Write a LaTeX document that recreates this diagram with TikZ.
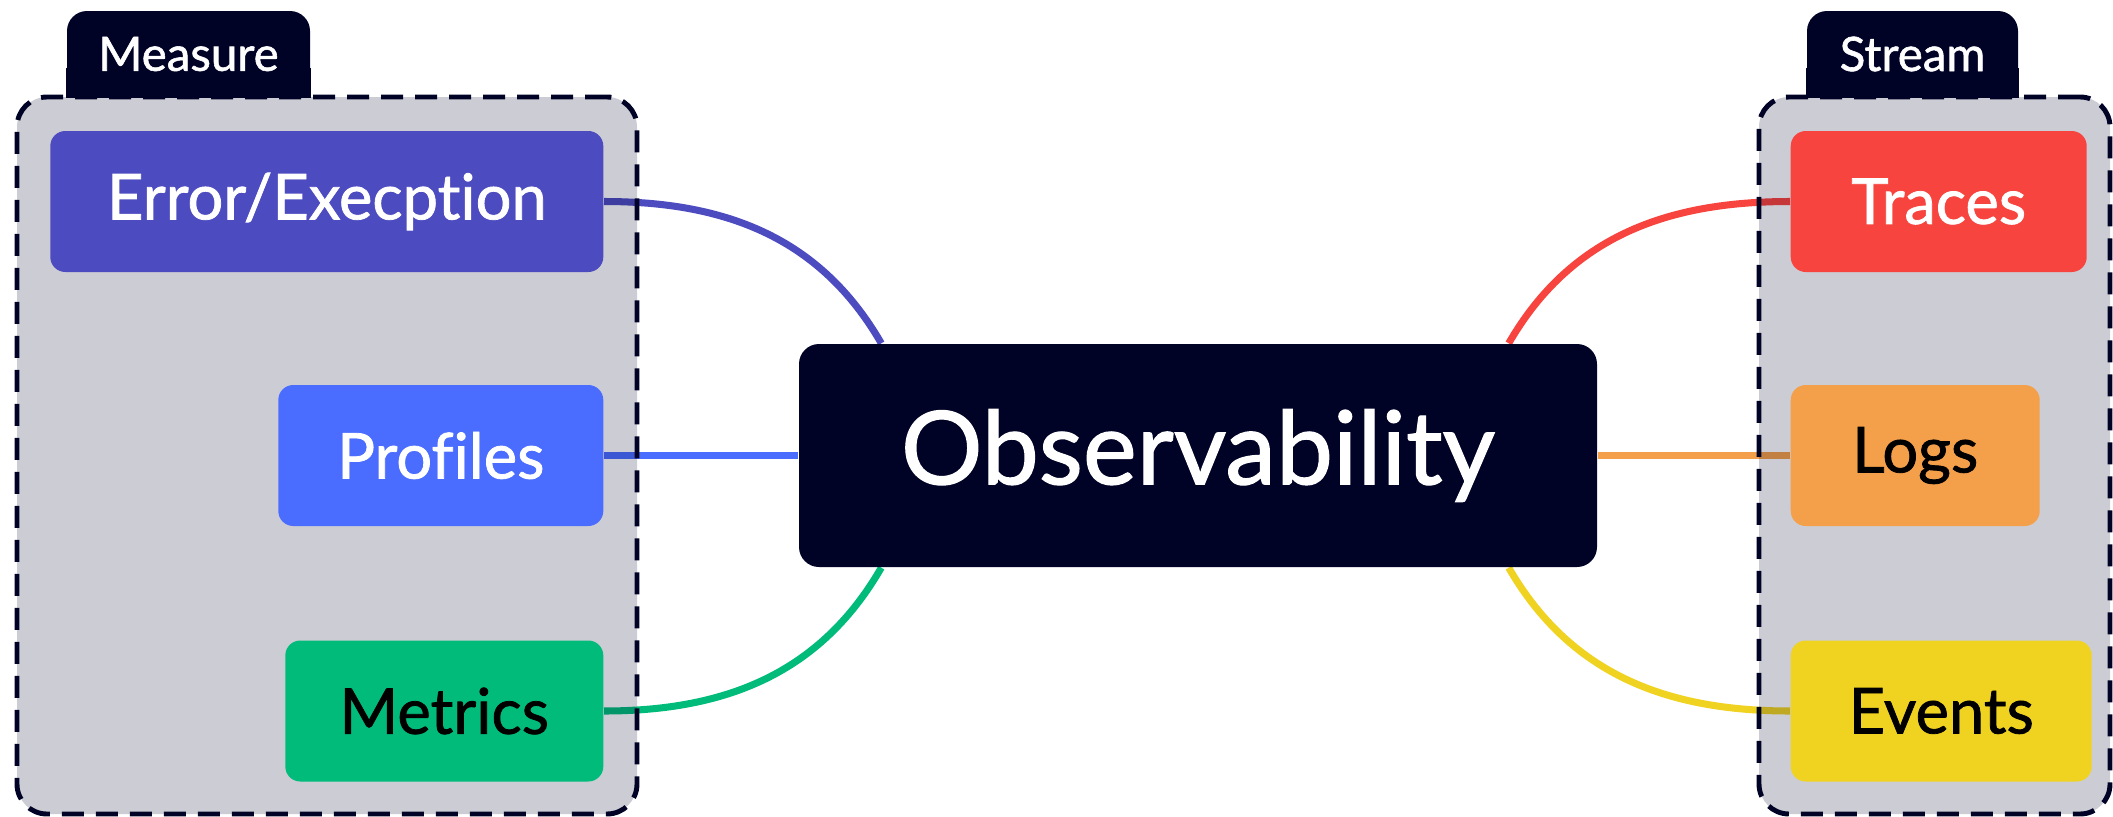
\documentclass[tikz,border=0pt]{standalone}
\usepackage{fontspec}
\setmainfont{Lato}[Ligatures=NoCommon, UprightFeatures={FakeBold=1.2}]
\usetikzlibrary{backgrounds}
\tikzset{
  item/.style={rounded corners=0.15cm, minimum height=1.41cm, inner sep=0pt,
    font=\fontsize{18}{21}\selectfont},
  hub/.style={fill=obsnavy, text=white, rounded corners=0.2cm, minimum width=7.98cm,
    minimum height=2.23cm, inner sep=0pt, font=\fontsize{29}{33}\selectfont},
  tab/.style={fill=obsnavy, text=white, rounded corners=0.2cm, minimum height=0.86cm,
    inner sep=0pt, font=\fontsize{13.5}{16}\selectfont},
  group/.style={draw=obsnavy, fill=obsnavy, fill opacity=0.2, line width=1.4pt,
    dash pattern=on 0.22cm off 0.12cm, rounded corners=0.3cm, minimum height=7.17cm},
  link/.style={line width=2pt},
}

\begin{document}
\begin{tikzpicture}
      \definecolor{obsnavy}{RGB}{0,3,38}
      \definecolor{errpurple}{RGB}{76,75,192}
      \definecolor{profblue}{RGB}{74,108,255}
      \definecolor{metgreen}{RGB}{0,187,122}
      \definecolor{trcred}{RGB}{248,68,62}
      \definecolor{logorange}{RGB}{244,160,75}
      \definecolor{evtyellow}{RGB}{240,211,33}
\useasboundingbox (0,0) rectangle (21.13,8.16);

% the hub in the middle
\node[hub] (obs) at (11.98,3.605) {Observability};

% left side: what we measure
\node[item, fill=errpurple, text=white, minimum width=5.53cm, anchor=east] (error) at (6.04,6.145) {Error/Execption};
\node[item, fill=profblue, text=white, minimum width=3.25cm, anchor=east] (profiles) at (6.04,3.605) {Profiles};
\node[item, fill=metgreen, text=black, minimum width=3.18cm, anchor=east] (metrics) at (6.04,1.05) {Metrics};

% right side: what we stream
\node[item, fill=trcred, text=white, minimum width=2.96cm, anchor=west] (traces) at (17.90,6.145) {Traces};
\node[item, fill=logorange, text=black, minimum width=2.49cm, anchor=west] (logs) at (17.90,3.605) {Logs};
\node[item, fill=evtyellow, text=black, minimum width=3.01cm, anchor=west] (events) at (17.90,1.05) {Events};

% tabs on top of the two groups
\node[tab, minimum width=2.43cm] (measuretab) at (1.885,7.62) {Measure};
\node[tab, minimum width=2.11cm] (streamtab) at (19.125,7.62) {Stream};

\begin{scope}[on background layer]
% links go first so the grey groups tint them
\draw[link, errpurple] (error.east) to[out=0, in=120] ([xshift=0.83cm]obs.north west);
\draw[link, profblue] (profiles.east) -- (obs.west);
\draw[link, metgreen] (metrics.east) to[out=0, in=-120] ([xshift=0.83cm]obs.south west);
\draw[link, trcred] (traces.west) to[out=180, in=60] ([xshift=-0.89cm]obs.north east);
\draw[link, logorange] (logs.west) -- (obs.east);
\draw[link, evtyellow] (events.west) to[out=180, in=-60] ([xshift=-0.89cm]obs.south east);

% the two dashed groups
\node[group, minimum width=6.2cm] (measure) at (3.27,3.605) {};
\node[group, minimum width=3.51cm] (stream) at (19.345,3.605) {};

% square off the bottom of the tabs
\fill[obsnavy] (measuretab.south west) rectangle ([yshift=0.3cm]measuretab.south east);
\fill[obsnavy] (streamtab.south west) rectangle ([yshift=0.3cm]streamtab.south east);
\end{scope}
\end{tikzpicture}
\end{document}
